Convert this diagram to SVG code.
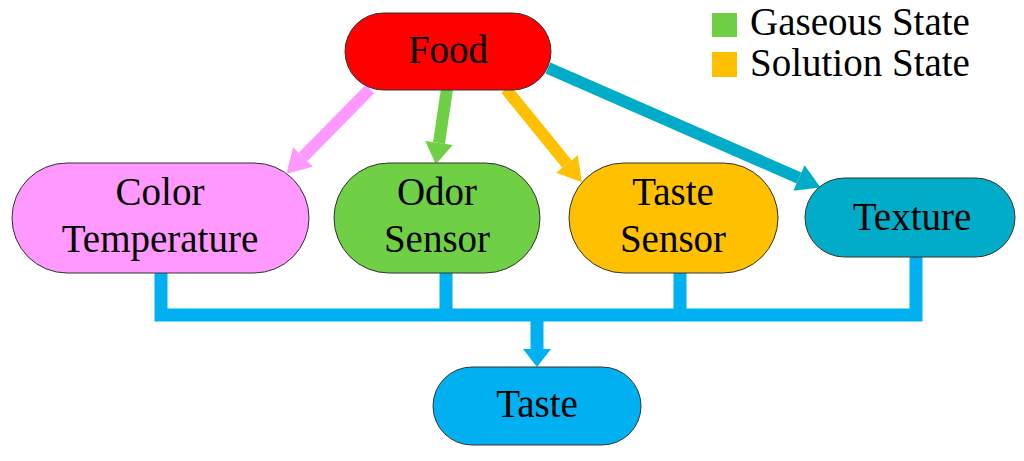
<svg xmlns="http://www.w3.org/2000/svg" width="1024" height="461" viewBox="0 0 1024 461">
<style>
.box{stroke:#333;stroke-width:1}
.t{font-family:"Liberation Serif","Times New Roman",serif;font-size:39px;fill:#000;text-anchor:middle}
.lg{font-family:"Liberation Serif","Times New Roman",serif;font-size:39px;fill:#000}
.ln{fill:none;stroke-width:12}
</style>
<defs>
<marker id="hPink" markerUnits="userSpaceOnUse" markerWidth="30" markerHeight="30" viewBox="0 -14 22 28" refX="0" refY="0" orient="auto"><path d="M0,-13 L22,0 L0,13 Z" fill="#FF99FF"/></marker>
<marker id="hGreen" markerUnits="userSpaceOnUse" markerWidth="30" markerHeight="30" viewBox="0 -14 22 28" refX="0" refY="0" orient="auto"><path d="M0,-13 L20,0 L0,13 Z" fill="#6FCF45"/></marker>
<marker id="hOrange" markerUnits="userSpaceOnUse" markerWidth="30" markerHeight="30" viewBox="0 -14 22 28" refX="0" refY="0" orient="auto"><path d="M0,-13 L22,0 L0,13 Z" fill="#FFC000"/></marker>
<marker id="hTeal" markerUnits="userSpaceOnUse" markerWidth="30" markerHeight="30" viewBox="0 -14 22 28" refX="0" refY="0" orient="auto"><path d="M0,-13 L22,0 L0,13 Z" fill="#00ACC7"/></marker>
</defs>
<rect width="1024" height="461" fill="#fff"/>

<g id="connectors">
  <line class="ln" x1="370" y1="89" x2="303" y2="157" stroke="#FF99FF" marker-end="url(#hPink)"/>
  <line class="ln" x1="447" y1="89" x2="439" y2="143" stroke="#6FCF45" marker-end="url(#hGreen)"/>
  <line class="ln" x1="506" y1="89" x2="567" y2="164" stroke="#FFC000" marker-end="url(#hOrange)"/>
  <line class="ln" x1="548" y1="68" x2="799" y2="178" stroke="#00ACC7" marker-end="url(#hTeal)"/>
  <path d="M161,273 V315 H916 V257 M446,273 V315 M680,273 V315" fill="none" stroke="#00B0F0" stroke-width="13" stroke-linejoin="miter"/>
  <path d="M537,315 V350" fill="none" stroke="#00B0F0" stroke-width="13"/>
  <path d="M523,349 L551,349 L537,367 Z" fill="#00B0F0"/>
</g>

<g id="food">
  <rect class="box" x="345" y="13" width="206" height="77" rx="38.5" fill="#FF0000"/>
  <text class="t" x="448" y="63">Food</text>
</g>

<g id="legend">
  <rect x="712" y="13" width="25" height="24" fill="#6FCF45"/>
  <text class="lg" x="750" y="35">Gaseous State</text>
  <rect x="712" y="52" width="25" height="25" fill="#FFC000"/>
  <text class="lg" x="750" y="76">Solution State</text>
</g>

<g id="color-temperature">
  <rect class="box" x="12" y="163" width="297" height="110" rx="55" fill="#FF99FF"/>
  <text class="t" x="160" y="205">Color</text>
  <text class="t" x="160" y="252">Temperature</text>
</g>

<g id="odor-sensor">
  <rect class="box" x="334" y="163" width="206" height="110" rx="55" fill="#6FCF45"/>
  <text class="t" x="437" y="205">Odor</text>
  <text class="t" x="437" y="252">Sensor</text>
</g>

<g id="taste-sensor">
  <rect class="box" x="569" y="163" width="209" height="110" rx="55" fill="#FFC000"/>
  <text class="t" x="673" y="205">Taste</text>
  <text class="t" x="673" y="252">Sensor</text>
</g>

<g id="texture">
  <rect class="box" x="805" y="178" width="210" height="79" rx="39.5" fill="#00ACC7"/>
  <text class="t" x="912" y="230">Texture</text>
</g>

<g id="taste">
  <rect class="box" x="433" y="367" width="208" height="78" rx="39" fill="#00B0F0"/>
  <text class="t" x="537" y="417">Taste</text>
</g>
</svg>
